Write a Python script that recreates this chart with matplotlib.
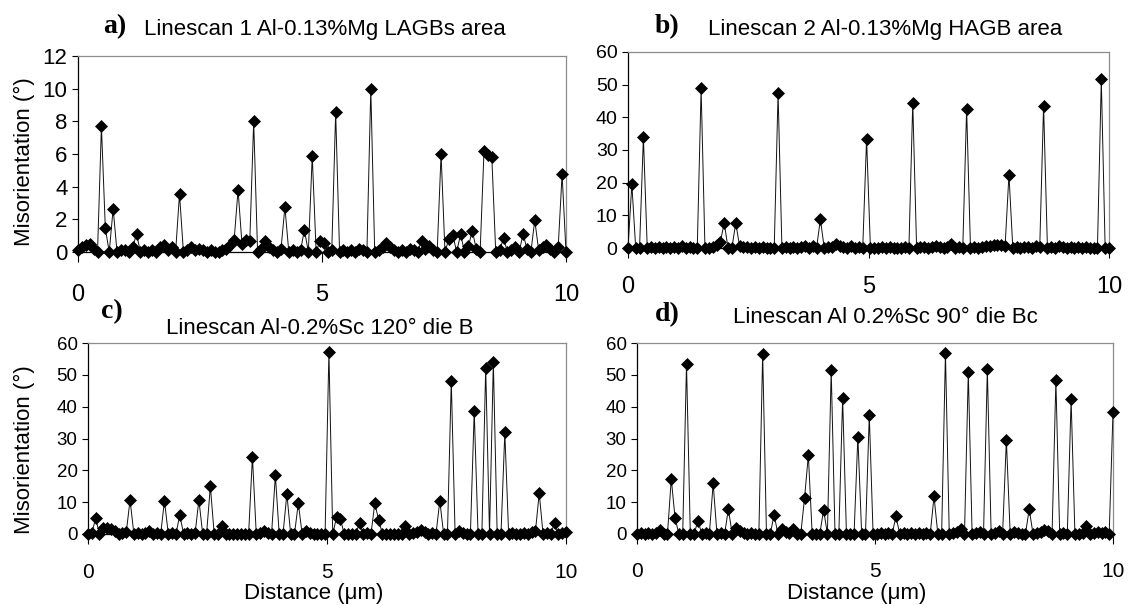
import numpy as np
import matplotlib
matplotlib.use("Agg")
from matplotlib import pyplot as plt

plt.rcParams['font.family'] = ['Liberation Sans', 'DejaVu Sans']

# scan grid (step 0.08 um, 0..10 um)
distance = np.linspace(0, 10, 126)

# misorientation (deg)
mis_a = [0.1, 0.3, 0.4, 0.5, 0.2, 0.0, 7.7, 1.45, 0.0, 2.65,
         0.0, 0.1, 0.1, 0.0, 0.3, 1.1, 0.0, 0.1, 0.0, 0.1,
         0.0, 0.3, 0.4, 0.1, 0.3, 0.0, 3.55, 0.0, 0.1, 0.3,
         0.1, 0.2, 0.1, 0.0, 0.1, 0.0, 0.0, 0.1, 0.2, 0.4,
         0.75, 3.8, 0.5, 0.75, 0.65, 8.0, 0.0, 0.2, 0.65, 0.3,
         0.1, 0.0, 0.2, 2.75, 0.0, 0.1, 0.0, 0.1, 1.35, 0.0,
         5.9, 0.0, 0.7, 0.55, 0.0, 0.1, 8.55, 0.0, 0.1, 0.0,
         0.1, 0.0, 0.2, 0.1, 0.0, 10.0, 0.0, 0.1, 0.3, 0.55,
         0.3, 0.1, 0.0, 0.1, 0.0, 0.2, 0.1, 0.0, 0.7, 0.2,
         0.35, 0.1, 0.0, 6.0, 0.0, 0.8, 1.05, 0.0, 1.1, 0.0,
         0.35, 1.3, 0.2, 0.0, 6.2, 5.95, 5.8, 0.0, 0.1, 0.85,
         0.0, 0.1, 0.3, 0.0, 1.1, 0.2, 0.0, 1.95, 0.1, 0.3,
         0.4, 0.2, 0.0, 0.3, 4.75, 0.0]

mis_b = [0, 19.5, 0, 0, 34.0, 0, 0.2, 0, 0.3, 0,
         0.2, 0, 0.4, 0, 0.5, 0, 0.2, 0, 0, 48.9,
         0, 0, 0.3, 0.8, 1.8, 7.7, 0, 0, 7.7, 0.5,
         0.2, 0.4, 0, 0.3, 0, 0.2, 0, 0.1, 0, 47.4,
         0, 0.3, 0, 0.4, 0, 0.2, 0.5, 0, 0.6, 0,
         8.8, 0, 0.3, 0.2, 1.2, 0.6, 0.4, 0, 0.5, 0,
         0.2, 0, 33.4, 0, 0.1, 0, 0.2, 0, 0.3, 0,
         0.1, 0, 0.2, 0, 44.5, 0, 0.4, 0.2, 0, 0.4,
         0.5, 0.2, 0, 0.3, 1.2, 0, 0.2, 0, 42.7, 0,
         0.2, 0, 0.2, 0.5, 0.7, 0.9, 1.0, 0.8, 0.6, 22.5,
         0, 0.2, 0, 0.4, 0.2, 0, 0.5, 0.2, 43.6, 0,
         0.3, 0, 0.6, 0.2, 0, 0.4, 0, 0.3, 0, 0.2,
         0, 0.1, 0, 51.6, 0, 0]

mis_c = [0, 0.3, 4.9, 0, 1.8, 2.0, 1.6, 0.8, 0, 0.3,
         0.5, 10.7, 0, 0.3, 0, 0.2, 0.8, 0, 0.3, 0,
         10.4, 0, 0.2, 0, 6.0, 0, 0.3, 0, 0.2, 10.7,
         0, 0, 15.0, 0, 0, 2.5, 0, 0, 0, 0,
         0, 0, 0, 24.3, 0, 0.3, 1.0, 0.3, 0, 18.4,
         0, 0, 12.6, 0, 0, 9.7, 0, 1.0, 0.4, 0,
         0, 0, 0, 57.2, 0, 5.3, 4.7, 0, 0, 0,
         0, 3.4, 0, 0.2, 0, 9.7, 4.4, 0, 0, 0,
         0, 0, 0, 2.5, 0, 0.2, 0.5, 1.4, 0.6, 0,
         0.3, 0, 10.4, 0, 0, 48.1, 0, 0.8, 0.3, 0,
         0, 38.6, 0, 0, 52.3, 0, 54.0, 0, 0, 31.9,
         0, 0.2, 0, 0, 0.3, 0, 0.5, 0.8, 12.8, 0,
         0.2, 0, 3.4, 0, 0.2, 0.5]

mis_d = [0, 0.2, 0, 0.4, 0, 0.2, 1.1, 0, 0, 17.3,
         5.0, 0, 0, 53.5, 0, 0, 4.2, 0, 0.3, 0,
         15.9, 0, 0.3, 0, 7.8, 0, 1.9, 0.8, 0.4, 0,
         0.2, 0, 0, 56.7, 0, 0, 6.1, 0, 1.5, 0.6,
         0.3, 1.5, 0, 0, 11.3, 24.8, 0, 0, 0, 7.6,
         0, 51.4, 0, 0, 42.7, 0, 0, 0, 30.6, 0,
         0, 37.4, 0, 0, 0.2, 0, 0.3, 0, 5.5, 0,
         0.2, 0, 0.2, 0, 0.3, 0, 0.2, 0, 11.8, 0,
         0, 57.0, 0, 0.3, 0.6, 1.5, 0, 50.9, 0, 0.3,
         0.6, 0, 51.8, 0, 0.2, 0.8, 0, 29.5, 0, 0.5,
         0.3, 0, 0, 7.8, 0, 0.3, 0.6, 1.4, 1.0, 0,
         48.3, 0, 0.2, 0, 42.3, 0, 0, 0.3, 2.6, 0,
         0.4, 0.6, 0.2, 0.5, 0, 38.4]

titles = ["Linescan 1 Al-0.13%Mg LAGBs area",
          "Linescan 2 Al-0.13%Mg HAGB area",
          "Linescan Al-0.2%Sc 120\u00b0 die B",
          "Linescan Al 0.2%Sc 90\u00b0 die Bc"]
letters = ["a)", "b)", "c)", "d)"]
x_ticks = [0, 5, 10]
y_ticks_a = [0, 2, 4, 6, 8, 10, 12]
y_ticks_bcd = [0, 10, 20, 30, 40, 50, 60]

W, H = 1128, 605
fig = plt.figure(figsize=(W / 100, H / 100), dpi=100)


def px_axes(x0, y0, x1, y1):
    # pixel box (left, top, right, bottom) -> figure axes
    return fig.add_axes([x0 / W, 1 - y1 / H, (x1 - x0) / W, (y1 - y0) / H])


def ftext(x, y, s, **kw):
    fig.text(x / W, 1 - y / H, s, **kw)


boxes = [(78, 56, 566, 252), (628, 52, 1109, 248),
         (88, 343, 566, 534), (637, 343, 1113, 534)]
series = [mis_a, mis_b, mis_c, mis_d]
yticks = [y_ticks_a, y_ticks_bcd, y_ticks_bcd, y_ticks_bcd]
ytick_size = [16, 14, 13.5, 13.5]
xtick_size = [17, 17, 15, 15]
xtick_pad = [16, 13, 14, 13]

for i, ax_box in enumerate(boxes):
    ax = px_axes(*ax_box)
    ax.plot(distance, series[i], color='#111111', lw=0.7, marker='D',
            markersize=6.3, markerfacecolor='black', markeredgecolor='black',
            markeredgewidth=0.5, clip_on=False, zorder=3)
    ax.set_xlim(0, 10)
    ax.set_ylim(0, yticks[i][-1])
    ax.set_xticks(x_ticks)
    ax.set_yticks(yticks[i])
    for side in ['top', 'right']:
        ax.spines[side].set_color('#8c8c8c')
        ax.spines[side].set_linewidth(0.9)
    for side in ['left', 'bottom']:
        ax.spines[side].set_color('black')
        ax.spines[side].set_linewidth(0.9)
    ax.tick_params(axis='y', direction='out', length=4.5, width=0.8,
                   pad=3, labelsize=ytick_size[i])
    ax.tick_params(axis='x', direction='out', length=7, width=0.8,
                   pad=xtick_pad[i], labelsize=xtick_size[i])

# titles and panel letters
ftext(325, 35, titles[0], ha='center', va='baseline', fontsize=16)
ftext(885, 35, titles[1], ha='center', va='baseline', fontsize=16)
ftext(320, 334, titles[2], ha='center', va='baseline', fontsize=16)
ftext(885, 323, titles[3], ha='center', va='baseline', fontsize=16)

serif_bold = dict(family=['Liberation Serif', 'DejaVu Serif'],
                  fontweight='bold', fontsize=20, ha='center', va='baseline')
ftext(115, 33, letters[0], **serif_bold)
ftext(667, 33, letters[1], **serif_bold)
ftext(112, 318, letters[2], **serif_bold)
ftext(667, 321, letters[3], **serif_bold)

# axis labels
ftext(24, 162, "Misorientation (\u00b0)", rotation=90, ha='center',
      va='center', fontsize=16)
ftext(24, 450, "Misorientation (\u00b0)", rotation=90, ha='center',
      va='center', fontsize=16)
ftext(314, 599, "Distance (\u03bcm)", ha='center', va='baseline', fontsize=16)
ftext(857, 599, "Distance (\u03bcm)", ha='center', va='baseline', fontsize=16)

fig.savefig("out.png", dpi=100)
